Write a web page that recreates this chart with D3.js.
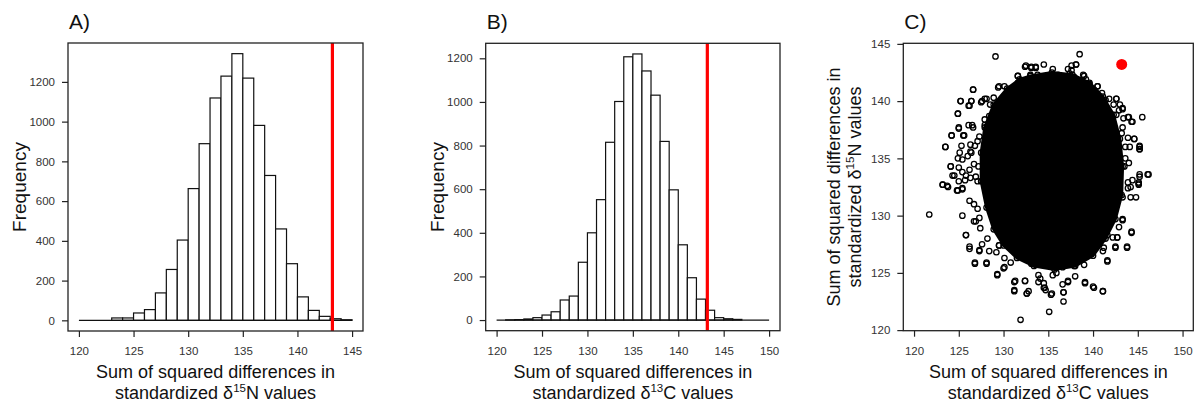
<!DOCTYPE html>
<html>
<head>
<meta charset="utf-8">
<script src="https://cdn.jsdelivr.net/npm/d3@7"></script>
<style>
  body { margin: 0; background: #fff; }
  svg { display: block; font-family: "Liberation Sans", Arial, sans-serif; }
</style>
</head>
<body>
<svg id="chart" width="1200" height="405"></svg>
<script>
// histogram A: delta15N, bins of width 1 from 120 to 145
var binStartA = 120;
var countsA = [0, 0, 0, 12, 12, 37, 54, 138, 256, 404, 663, 889, 1119, 1229, 1342,
               1219, 981, 729, 460, 285, 118, 50, 20, 8, 3];
var ticksA = [120, 125, 130, 135, 140, 145];
var yTicksA = [0, 200, 400, 600, 800, 1000, 1200];

// histogram B: delta13C, bins of width 1 from 120 to 150
var binStartB = 120;
var countsB = [0, 1, 2, 5, 11, 23, 38, 92, 110, 265, 400, 552, 815, 1002, 1207,
               1220, 1142, 1031, 819, 597, 345, 194, 96, 45, 11, 6, 3, 0, 0, 0];
var ticksB = [120, 125, 130, 135, 140, 145, 150];
var yTicksB = [0, 200, 400, 600, 800, 1000, 1200];

// observed value (red line / red dot)
var observedN = 143.2;
var observedC = 143.2;

// scatter C: outline of the solid black core (C, N)
var coreOutline = [
  [133.0, 142.2], [135.4, 142.5], [137.7, 142.3], [139.6, 141.6], [141.1, 140.4],
  [142.3, 138.8], [143.0, 136.7], [143.3, 134.3], [143.2, 131.8], [142.5, 129.7],
  [141.4, 128.0], [140.0, 126.5], [138.0, 125.6], [135.7, 125.3], [133.4, 125.6],
  [131.5, 126.3], [130.0, 127.4], [128.9, 128.8], [128.1, 130.7], [127.5, 133.0],
  [127.5, 135.5], [127.9, 137.7], [128.9, 139.7], [130.4, 141.1], [131.8, 141.9]
];
// scatter C: individually visible points around the core (C, N)
var outliers = [
  [129.1, 143.9], [138.5, 144.1], [138.1, 143.2], [134.5, 143.2], [121.7, 130.1],
  [123.2, 132.7], [123.8, 132.5], [123.5, 136.0], [124.2, 137.0], [124.1, 134.3],
  [124.3, 133.5], [125.2, 140.0], [124.9, 138.9], [125.0, 137.7], [125.5, 137.0],
  [126.6, 141.0], [126.4, 140.0], [126.1, 139.6], [126.5, 137.9], [125.4, 130.0],
  [125.8, 128.3], [126.2, 127.1], [126.8, 125.8], [128.1, 125.8], [127.3, 126.9],
  [124.8, 132.2], [125.4, 132.4], [129.3, 124.8], [130.0, 125.4], [131.2, 124.2],
  [131.2, 123.4], [132.4, 124.3], [132.6, 123.2], [131.9, 120.9], [133.9, 124.2],
  [134.5, 123.7], [134.7, 123.5], [135.3, 123.1], [135.1, 121.6], [136.7, 122.5],
  [136.7, 123.3], [137.2, 124.2], [139.1, 124.1], [140.1, 123.7], [141.1, 123.4],
  [141.6, 126.0], [142.5, 127.2], [143.8, 127.2], [144.3, 128.5], [142.7, 128.1],
  [143.3, 129.6], [145.2, 133.6], [146.2, 133.6], [145.1, 132.9], [144.8, 131.6],
  [145.5, 138.6], [145.2, 136.0], [145.2, 135.8], [144.6, 136.7], [144.3, 138.2],
  [144.0, 138.6], [143.3, 139.3], [142.6, 140.2], [140.5, 141.3], [139.0, 142.2],
  [137.6, 142.7], [133.6, 142.9], [133.1, 142.9], [132.5, 143.1], [131.6, 142.2],
  [129.5, 141.3], [128.5, 139.7], [127.5, 139.9], [127.9, 140.2], [126.8, 136.1],
  [126.4, 135.5], [127.1, 133.0], [126.9, 129.5], [127.4, 128.9], [128.4, 126.9],
  [129.5, 127.4],
  // upper-left band
  [132.4, 143.0], [133.1, 143.0], [133.6, 143.0], [131.6, 142.2], [132.3, 141.7],
  [133.0, 142.3], [133.8, 142.3], [134.4, 141.9], [129.4, 141.2], [130.1, 141.3],
  [130.9, 141.1], [131.6, 141.6], [126.6, 141.0], [125.2, 140.0], [126.2, 139.6],
  [126.4, 140.0], [127.6, 140.0], [128.1, 140.2], [128.9, 140.3], [129.5, 139.9],
  [124.9, 138.9], [126.1, 137.9], [126.6, 137.7], [125.0, 137.6], [125.6, 137.0],
  [124.2, 137.0], [123.5, 136.0], [126.3, 136.2], [127.3, 136.9], [127.1, 136.5],
  [127.9, 138.4], [127.9, 137.9], [128.4, 138.7], [125.3, 136.1], [125.1, 135.5],
  [124.9, 135.0], [125.4, 134.9], [126.0, 135.2], [126.3, 135.6], [124.1, 134.3],
  [124.5, 133.5], [125.0, 134.2], [125.4, 133.8], [125.8, 133.5], [126.2, 134.0],
  [126.7, 134.5], [127.2, 134.3], [123.7, 132.6], [125.0, 133.0], [125.7, 133.1],
  [126.3, 133.3], [126.9, 133.4],
  // upper-right band
  [135.5, 142.8], [136.1, 142.3], [135.5, 142.3], [137.2, 142.8], [137.6, 143.1],
  [138.1, 143.2], [137.4, 142.4], [137.9, 142.1], [138.9, 142.3], [139.2, 141.9],
  [139.6, 141.5], [140.5, 141.3], [140.1, 141.0], [141.0, 140.7], [141.4, 140.1],
  [141.8, 140.2], [142.6, 140.2], [142.3, 139.7], [143.0, 139.7], [143.3, 139.4],
  [142.9, 139.2], [142.6, 138.8], [143.4, 138.5], [143.9, 138.6], [144.4, 138.2],
  [143.3, 137.7], [143.2, 137.2], [143.9, 136.8], [144.6, 136.7], [145.2, 136.1],
  [144.1, 136.0], [143.6, 136.0], [145.2, 135.8], [143.6, 135.0], [144.0, 134.6],
  [143.5, 134.3], [146.1, 133.6], [145.2, 133.4], [144.4, 133.1], [143.9, 132.9],
  [145.1, 132.8], [144.2, 132.5],
  // lower-left band
  [123.2, 132.7], [124.9, 132.2], [125.4, 132.3], [126.2, 131.3], [126.7, 131.0],
  [127.1, 130.6], [126.7, 129.5], [127.3, 129.8], [125.8, 128.3], [126.2, 127.3],
  [127.3, 127.0], [126.8, 125.9], [128.1, 125.9], [127.6, 127.5], [128.2, 128.0],
  [129.3, 124.9], [129.5, 127.4], [129.2, 126.8], [130.1, 126.3], [130.1, 125.5],
  [130.8, 125.9], [131.3, 124.3], [131.2, 123.5], [132.4, 124.3], [132.6, 123.2],
  [132.8, 123.4], [133.1, 125.8], [133.6, 125.7], [133.9, 124.8], [134.5, 124.1],
  [134.1, 124.5],
  // lower-right band
  [144.3, 128.6], [143.8, 127.3], [142.5, 127.3], [142.7, 128.1], [142.2, 128.1],
  [141.6, 128.3], [141.2, 127.2], [141.6, 126.1], [141.1, 126.9], [139.1, 124.2],
  [140.0, 123.8], [141.1, 123.4], [139.0, 125.7], [139.5, 126.6], [138.0, 124.7],
  [137.2, 124.3], [136.6, 124.0], [136.7, 123.3], [135.4, 123.2], [134.6, 123.7],
  [135.9, 125.0], [135.5, 124.8], [134.6, 126.3], [135.5, 125.6], [136.6, 125.5],
  [137.9, 125.6], [138.5, 126.1], [137.7, 126.0], [143.3, 129.7], [142.9, 129.0],
  [143.3, 131.6], [144.2, 131.6], [143.9, 132.4], [145.1, 132.7]
];
var ticksCx = [120, 125, 130, 135, 140, 145, 150];
var ticksCy = [120, 125, 130, 135, 140, 145];

var svg = d3.select("#chart");
var tickCol = "#333";

function panelTitle(x, label) {
    svg.append("text")
        .attr("x", x)
        .attr("y", 29)
        .style("font-size", "21px")
        .attr("fill", "#111")
        .text(label);
}

function styleAxis(g) {
    g.select(".domain").remove();
    g.selectAll("line").attr("stroke", "#222").attr("stroke-width", 1.2);
    g.selectAll("text").attr("fill", tickCol).style("font-size", "11.5px")
        .style("font-family", "Liberation Sans, Arial, sans-serif");
}

function xAxis(x, y0, ticks) {
    var g = svg.append("g")
        .attr("transform", "translate(0," + y0 + ")")
        .call(d3.axisBottom(x).tickValues(ticks).tickSize(6).tickPadding(10).tickFormat(d3.format("d")));
    styleAxis(g);
}

function yAxis(y, x0, ticks) {
    var g = svg.append("g")
        .attr("transform", "translate(" + x0 + ",0)")
        .call(d3.axisLeft(y).tickValues(ticks).tickSize(6).tickPadding(7).tickFormat(d3.format("d")));
    styleAxis(g);
}

function box(x0, y0, x1, y1) {
    svg.append("rect")
        .attr("x", x0).attr("y", y0)
        .attr("width", x1 - x0).attr("height", y1 - y0)
        .attr("fill", "none")
        .attr("stroke", "#222")
        .attr("stroke-width", 1.3);
}

// two-line label with a superscript isotope number
function isoLabel(g, sup, elem) {
    g.append("text").attr("text-anchor", "middle").attr("y", 0)
        .style("font-size", "18px").attr("fill", "#111")
        .text("Sum of squared differences in");
    var t2 = g.append("text").attr("text-anchor", "middle").attr("y", 20.5)
        .style("font-size", "18px").attr("fill", "#111");
    t2.append("tspan").text("standardized \u03b4");
    t2.append("tspan").attr("dy", -7).style("font-size", "11.5px").text(sup);
    t2.append("tspan").attr("dy", 7).text(elem + " values");
}

function histogram(opt) {
    var nb = opt.counts.length;
    var lo = opt.start, hi = opt.start + nb;
    var pad = (hi - lo) * 0.04;
    var ymax = d3.max(opt.counts);
    var x = d3.scaleLinear().domain([lo - pad, hi + pad]).range([opt.left, opt.right]);
    var y = d3.scaleLinear().domain([-ymax * 0.04, ymax * 1.04]).range([opt.bottom, opt.top]);

    var bins = opt.counts.map(function (c, i) { return { x0: lo + i, x1: lo + i + 1, n: c }; });
    svg.append("g").selectAll("rect").data(bins.filter(d => d.n > 0)).enter().append("rect")
        .attr("x", d => x(d.x0))
        .attr("width", d => x(d.x1) - x(d.x0))
        .attr("y", d => y(d.n))
        .attr("height", d => y(0) - y(d.n))
        .attr("fill", "#fff")
        .attr("stroke", "#111")
        .attr("stroke-width", 1.2);

    // baseline under all bins, empty ones included
    svg.append("line")
        .attr("x1", x(lo)).attr("x2", x(hi))
        .attr("y1", y(0)).attr("y2", y(0))
        .attr("stroke", "#111")
        .attr("stroke-width", 1.2);

    // red line for observed value
    svg.append("line")
        .attr("x1", x(opt.observed)).attr("x2", x(opt.observed))
        .attr("y1", opt.top).attr("y2", opt.bottom)
        .attr("stroke", "#ff0000")
        .attr("stroke-width", 3.2);

    box(opt.left, opt.top, opt.right, opt.bottom);
    xAxis(x, opt.bottom, opt.xticks);
    yAxis(y, opt.left, opt.yticks);

    svg.append("text")
        .attr("transform", "translate(" + (opt.left - 42) + "," + ((opt.top + opt.bottom) / 2) + ") rotate(-90)")
        .attr("text-anchor", "middle")
        .style("font-size", "19px")
        .attr("fill", "#111")
        .text("Frequency");

    isoLabel(svg.append("g").attr("transform", "translate(" + ((opt.left + opt.right) / 2) + ",378)"), opt.sup, opt.elem);
    panelTitle(opt.left + 1, opt.title);
}

histogram({ counts: countsA, start: binStartA, observed: observedN, xticks: ticksA, yticks: yTicksA,
    left: 68, right: 363, top: 43, bottom: 331, sup: "15", elem: "N", title: "A)" });
histogram({ counts: countsB, start: binStartB, observed: observedC, xticks: ticksB, yticks: yTicksB,
    left: 485.7, right: 780, top: 43.3, bottom: 330.7, sup: "13", elem: "C", title: "B)" });

// scatter panel C
(function () {
    var left = 903.3, right = 1193.3, top = 43.3, bottom = 330.7;
    var x = d3.scaleLinear().domain([118.8, 151.2]).range([left, right]);
    var y = d3.scaleLinear().domain([119.95, 145.05]).range([bottom, top]);
    var c = svg.append("g");

    c.append("path")
        .datum(coreOutline)
        .attr("d", d3.line().x(d => x(d[0])).y(d => y(d[1])).curve(d3.curveLinearClosed))
        .attr("fill", "#000")
        .attr("stroke", "#000")
        .attr("stroke-width", 3);

    var pts = coreOutline.concat(outliers);
    c.selectAll("circle.pt").data(pts).enter().append("circle")
        .attr("class", "pt")
        .attr("cx", d => x(d[0])).attr("cy", d => y(d[1]))
        .attr("r", 2.7)
        .attr("fill", "none").attr("stroke", "#000").attr("stroke-width", 1.3);

    c.append("circle")
        .attr("cx", x(observedC)).attr("cy", y(observedN))
        .attr("r", 5.5)
        .attr("fill", "#ff0000");

    box(left, top, right, bottom);
    xAxis(x, bottom, ticksCx);
    yAxis(y, left, ticksCy);

    isoLabel(svg.append("g").attr("transform", "translate(" + ((left + right) / 2) + ",378)"), "13", "C");
    isoLabel(svg.append("g").attr("transform", "translate(840," + ((top + bottom) / 2) + ") rotate(-90)"), "15", "N");
    panelTitle(left + 1, "C)");
})();
</script>
</body>
</html>
